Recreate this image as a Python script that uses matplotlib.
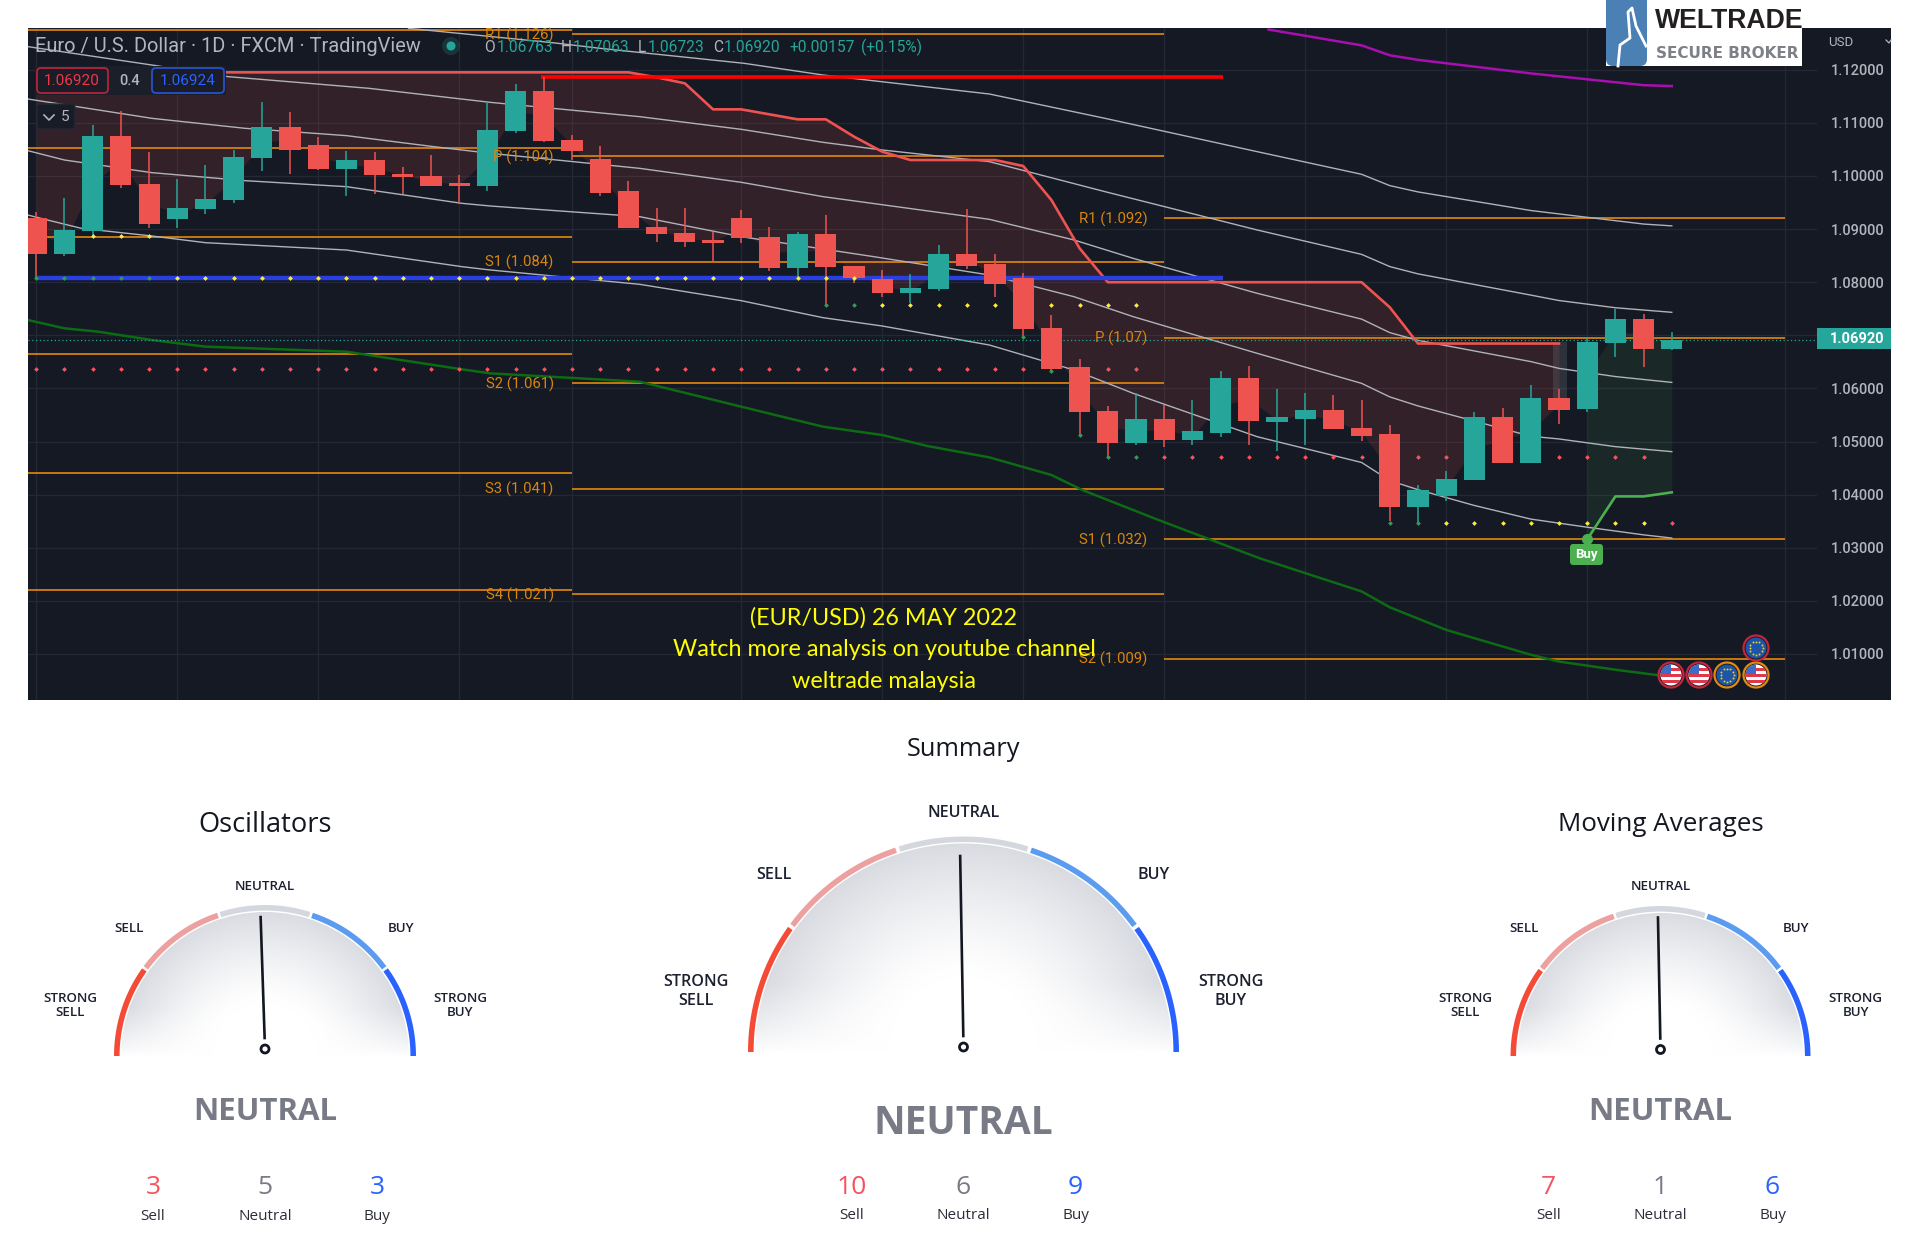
#!/usr/bin/env python3
"""
EUR/USD daily chart with pivots, plus three technical rating gauges
"""
import matplotlib
matplotlib.use('Agg')
import matplotlib.pyplot as plt
import numpy as np
from matplotlib.patches import Circle, FancyBboxPatch, Rectangle

# daily candles, values
opens = [1.09215, 1.08531, 1.08958, 1.10753, 1.09856, 1.09190, 1.09378, 1.09542, 1.10333, 1.10916,
         1.10584, 1.10138, 1.10301, 1.10044, 1.09994, 1.09874, 1.09805, 1.10847, 1.11601, 1.10678,
         1.10320, 1.09711, 1.09046, 1.08926, 1.08788, 1.09209, 1.08857, 1.08267, 1.08901, 1.08311,
         1.08054, 1.07796, 1.07865, 1.08525, 1.08336, 1.08079, 1.07131, 1.06396, 1.05568, 1.04977,
         1.05423, 1.05028, 1.05166, 1.06202, 1.05373, 1.05424, 1.05586, 1.05254, 1.05134, 1.03763,
         1.03976, 1.04283, 1.05458, 1.04590, 1.05816, 1.05603, 1.06864, 1.07307, 1.06736]
highs = [1.09328, 1.09592, 1.10960, 1.11224, 1.10446, 1.09950, 1.10207, 1.10490, 1.11387, 1.11199,
         1.10728, 1.10471, 1.10446, 1.10163, 1.10395, 1.10019, 1.11387, 1.11726, 1.11871, 1.10772,
         1.10565, 1.09899, 1.09403, 1.09403, 1.08951, 1.09353, 1.09046, 1.08951, 1.09259, 1.08311,
         1.08223, 1.08148, 1.08694, 1.09378, 1.08525, 1.08173, 1.07388, 1.06560, 1.05662, 1.05919,
         1.05687, 1.05781, 1.06321, 1.06415, 1.05986, 1.05918, 1.05867, 1.05773, 1.05305, 1.04180,
         1.04436, 1.05560, 1.05629, 1.06072, 1.05986, 1.06966, 1.07503, 1.07409, 1.07063]
lows = [1.08073, 1.08499, 1.08870, 1.09780, 1.09027, 1.09027, 1.09284, 1.09498, 1.10088, 1.10044,
        1.10113, 1.09617, 1.09667, 1.09655, 1.09805, 1.09479, 1.09711, 1.10803, 1.10634, 1.10301,
        1.09617, 1.09027, 1.08763, 1.08669, 1.08386, 1.08738, 1.08217, 1.08054, 1.07564, 1.07978,
        1.07721, 1.07614, 1.07840, 1.08242, 1.07721, 1.06974, 1.06334, 1.05122, 1.04701, 1.04934,
        1.04902, 1.04927, 1.05078, 1.04934, 1.04819, 1.04930, 1.05228, 1.05015, 1.03499, 1.03456,
        1.03882, 1.04283, 1.04590, 1.04590, 1.05322, 1.05560, 1.06600, 1.06412, 1.06723]
closes = [1.08531, 1.08977, 1.10753, 1.09830, 1.09096, 1.09403, 1.09567, 1.10351, 1.10916, 1.10496,
          1.10138, 1.10301, 1.10019, 1.09975, 1.09805, 1.09805, 1.10866, 1.11601, 1.10659, 1.10471,
          1.09686, 1.09027, 1.08907, 1.08763, 1.08738, 1.08838, 1.08267, 1.08901, 1.08292, 1.08079,
          1.07790, 1.07884, 1.08525, 1.08311, 1.07960, 1.07112, 1.06371, 1.05549, 1.04977, 1.05423,
          1.05028, 1.05191, 1.06202, 1.05379, 1.05458, 1.05586, 1.05228, 1.05100, 1.03763, 1.04087,
          1.04300, 1.05458, 1.04590, 1.05816, 1.05586, 1.06881, 1.07307, 1.06736, 1.06920]

# supertrend, falling part then the buy part
st_red = [1.11952] * 22 + [1.11858, 1.11745, 1.11255, 1.11255, 1.11161, 1.11067, 1.11067, 1.10741,
                           1.10458, 1.10301, 1.10301, 1.10301, 1.10301, 1.10188, 1.09548, 1.08638,
                           1.08000, 1.08000, 1.08000, 1.08000, 1.08000, 1.08000, 1.08000, 1.08000,
                           1.08000, 1.08000, 1.07527, 1.06845, 1.06845, 1.06845, 1.06845, 1.06845,
                           1.06845]
st_green_x = [55, 56, 57, 58]
st_green = [1.03156, 1.03966, 1.03966, 1.04042]

band1_x = [13.2, 18.3, 20, 25.1, 27.9, 33.8, 37.9, 43.3, 47, 48, 49, 53, 55, 57, 58]
band1 = [1.12781, 1.12511, 1.12404, 1.12122, 1.11902, 1.11544, 1.11086, 1.10458, 1.10032, 1.09819,
         1.09700, 1.09350, 1.09222, 1.09095, 1.09061]
band2_x = [-0.3, 4.1, 6.8, 11.8, 16.1, 21.4, 25, 27.9, 30, 33.8, 37.9, 43.3, 47, 48, 49, 53, 54, 56, 58]
band2 = [1.12436, 1.12090, 1.11871, 1.11651, 1.11387, 1.11117, 1.10879, 1.10634, 1.10490, 1.10270,
         1.09705, 1.08983, 1.08524, 1.08294, 1.08157, 1.07757, 1.07655, 1.07519, 1.07433]
band3_x = [-0.3, 4.1, 7.4, 11, 14.1, 16.1, 21.4, 25, 27.9, 33.8, 36.8, 38.9, 43.3, 47, 48, 49, 53, 54, 56, 58]
band3 = [1.11450, 1.11086, 1.10898, 1.10760, 1.10552, 1.10427, 1.10144, 1.09881, 1.09611, 1.09184,
         1.08795, 1.08449, 1.07790, 1.07305, 1.07050, 1.06905, 1.06505, 1.06377, 1.06223, 1.06113]
band4_x = [-0.3, 1, 4.1, 7.4, 11, 15.1, 16.1, 21.4, 25, 29.7, 33.8, 36.8, 38.9, 43.3, 47, 48, 49, 53, 54, 56, 58]
band4 = [1.10477, 1.10301, 1.10063, 1.09912, 1.09799, 1.09485, 1.09435, 1.09234, 1.08857, 1.08481,
         1.08135, 1.07727, 1.07351, 1.06660, 1.06095, 1.05840, 1.05670, 1.05099, 1.05048, 1.04903, 1.04809]
band5_x = [-0.3, 0.3, 1.6, 4.1, 6, 11, 15.1, 16.1, 21.4, 25, 27.9, 30, 33.8, 36.8, 38.9, 43.3, 47, 48,
           49, 51, 53, 55, 57, 58]
band5 = [1.09265, 1.09184, 1.09014, 1.08870, 1.08744, 1.08606, 1.08292, 1.08230, 1.07960, 1.07652,
         1.07332, 1.07175, 1.06817, 1.06346, 1.05907, 1.05090, 1.04605, 1.04264, 1.04093, 1.03795,
         1.03539, 1.03386, 1.03242, 1.03182]
ma_green_x = [-0.3, 1, 2.2, 4.1, 6, 11, 15.1, 16.1, 21.4, 25, 27.9, 30, 31.6, 33.8, 36, 37.1, 39.8,
              43.4, 47, 48, 50, 53, 54, 56, 57.5]
ma_green = [1.07288, 1.07131, 1.07068, 1.06911, 1.06786, 1.06691, 1.06359, 1.06283, 1.06126, 1.05656,
            1.05279, 1.05122, 1.04915, 1.04701, 1.04369, 1.04086, 1.03521, 1.02798, 1.02176, 1.01878,
            1.01452, 1.00984, 1.00856, 1.00702, 1.00600]
ma_purple_x = [43.7, 47, 48, 49, 53, 55, 57, 58]
ma_purple = [1.12758, 1.12460, 1.12273, 1.12187, 1.11932, 1.11821, 1.11710, 1.11693]

# pivot levels for the three periods
pivot_ranges = [(-0.3, 19), (19, 40), (40, 62)]
pivot_levels = [[1.12750, 1.10534, 1.08857, 1.06641, 1.04412, 1.02198],
                [1.12668, 1.10370, 1.08386, 1.06095, 1.04111, 1.02128],
                [1.09200, 1.06956, 1.03156, 1.00908]]
pivot_labels = [[],
                ['R1 (1.126)', 'P (1.104)', 'S1 (1.084)', 'S2 (1.061)', 'S3 (1.041)', 'S4 (1.021)'],
                ['R1 (1.092)', 'P (1.07)', 'S1 (1.032)', 'S2 (1.009)']]

red_level = 1.11870
blue_level = 1.08073
last_price = 1.06920
price_ticks = [1.01, 1.02, 1.03, 1.04, 1.05, 1.06, 1.07, 1.08, 1.09, 1.10, 1.11, 1.12]
time_ticks = [0, 5, 10, 15, 19, 25, 30, 35, 40, 45, 50, 55, 62]

# signal dots: price level and candle indexes per colour
dot_rows = [
    (1.08073, list(range(0, 5)), '#2e9e4f'),
    (1.08073, list(range(5, 30)), '#ffeb3b'),
    (1.08870, [2, 3, 4], '#ffeb3b'),
    (1.07570, [28, 29], '#2e9e4f'),
    (1.07570, [30, 31, 32, 33, 34, 36, 37, 38, 39], '#ffeb3b'),
    (1.06365, list(range(0, 36)) + [38, 39], '#f7525f'),
    (1.06974, [35], '#2e9e4f'),
    (1.06334, [36], '#2e9e4f'),
    (1.05122, [37], '#2e9e4f'),
    (1.04700, [38, 39], '#2e9e4f'),
    (1.04700, [40, 41, 42, 43, 44, 45, 46, 47, 49, 50, 54, 55, 56, 57], '#f7525f'),
    (1.03463, [48, 49], '#2e9e4f'),
    (1.03463, [50, 51, 52, 53, 54, 55, 56, 57], '#ffeb3b'),
    (1.03463, [58], '#f7525f'),
]

# gauges
gauge_names = ['Oscillators', 'Summary', 'Moving Averages']
gauge_sell = [3, 10, 7]
gauge_neutral = [5, 6, 1]
gauge_buy = [3, 9, 6]
needle_deg = [91.9, 91.0, 91.1]
gauge_segments = ['#f44a36', '#eda0a0', '#d5d7de', '#5b9cf0', '#2962ff']

BG = '#141923'
RED = '#ef5350'
TEAL = '#26a69a'
ORANGE = '#d9820f'
W, H = 1920, 1260


def pix_rect(x0, y0, x1, y1):
    return [x0 / W, 1 - y1 / H, (x1 - x0) / W, (y1 - y0) / H]


fig = plt.figure(figsize=(19.2, 12.6), dpi=100, facecolor='white')
fig.patches.append(Rectangle((28 / W, 1 - 700 / H), (1891 - 28) / W, 672 / H,
                             transform=fig.transFigure, facecolor=BG, edgecolor='none', zorder=-1))

ax = fig.add_axes(pix_rect(28, 28, 1817, 700), facecolor=BG)
ax.set_xlim(-0.294, 63.15)
ax.set_ylim(1.00132, 1.12787)
for spine in ax.spines.values():
    spine.set_visible(False)
ax.set_axisbelow(True)
ax.grid(color='#232834', linewidth=1)
ax.set_xticks(time_ticks)
ax.set_yticks(price_ticks)
ax.set_yticklabels([f'{p:.5f}' for p in price_ticks], family='Roboto', fontweight='medium')
ax.yaxis.tick_right()
ax.tick_params(axis='x', length=0, labelbottom=False)
ax.tick_params(axis='y', length=0, pad=10, labelsize=10.5, labelcolor='#b2b5be')

idx = np.arange(len(closes))
opens_a, closes_a = np.array(opens), np.array(closes)
mids = (opens_a + closes_a) / 2

ax.fill_between(idx[:55], st_red[:55], mids[:55], color=RED, alpha=0.14, linewidth=0, zorder=1)
ax.fill_between(st_green_x, st_green, mids[55:], color='#4caf50', alpha=0.11, linewidth=0, zorder=1)
ax.fill_between([53.8, 54.3], 1.0575, 1.0688, color='#787b86', alpha=0.25, linewidth=0, zorder=1)

for (x0, x1), levels in zip(pivot_ranges, pivot_levels):
    ax.hlines(levels, x0, x1, color=ORANGE, linewidth=1.4, alpha=0.9, zorder=2)

for xs, ys in [(band1_x, band1), (band2_x, band2), (band3_x, band3), (band4_x, band4), (band5_x, band5)]:
    ax.plot(xs, ys, color='#b0b2b9', linewidth=1.0, zorder=3)
ax.plot(ma_green_x, ma_green, color='#0d6b14', linewidth=1.8, zorder=3)
ax.plot(ma_purple_x, ma_purple, color='#a80fb0', linewidth=1.8, zorder=3)

ax.plot(idx[:55], st_red[:55], color=RED, linewidth=1.9, zorder=4)
ax.plot(st_green_x, st_green, color='#4caf50', linewidth=1.9, zorder=4)
ax.plot([55], [st_green[0]], marker='o', color='#4caf50', markersize=7, zorder=6)

ax.hlines(blue_level, 0, 42.1, color='#2a3fe0', linewidth=3.2, zorder=4)
ax.hlines(red_level, 17.9, 42.1, color='#ff0000', linewidth=2.6, zorder=4)
ax.axhline(last_price, color=TEAL, linewidth=0.9, linestyle=(0, (1, 2)), zorder=4)

colors = [TEAL if c >= o else RED for o, c in zip(opens, closes)]
ax.vlines(idx, lows, highs, color=colors, linewidth=1.1, zorder=5)
ax.bar(idx, np.abs(closes_a - opens_a), bottom=np.minimum(opens_a, closes_a), width=0.75,
       color=colors, zorder=5)

for level, where, col in dot_rows:
    ax.scatter(where, [level] * len(where), marker='D', s=6, color=col, linewidth=0, zorder=7)

label_ends = [None, 18.35, 39.4]
for end, levels, labels in zip(label_ends, pivot_levels, pivot_labels):
    for level, lab in zip(levels, labels):
        ax.annotate(lab, (end, level), xytext=(0, -1), textcoords='offset pixels', color='#d9860f',
                    fontsize=10.7, family='Roboto', ha='right', va='center', zorder=6)

# everything else is placed in picture pixels on an overlay
ui = fig.add_axes([0, 0, 1, 1], facecolor='none')
ui.set_xlim(0, W)
ui.set_ylim(H, 0)
ui.axis('off')


def txt(x, y, s, color, size, family='Roboto', ha='left', weight='normal', **kw):
    return ui.text(x, y, s, color=color, fontsize=size, family=family, ha=ha, va='center',
                   fontweight=weight, **kw)


# header
txt(35, 46, 'Euro / U.S. Dollar · 1D · FXCM · TradingView', '#b2b5be', 14.4)
ui.add_patch(Circle((451, 46), 9, facecolor=TEAL, alpha=0.2, edgecolor='none'))
ui.add_patch(Circle((451, 46), 4.5, facecolor=TEAL, edgecolor='none'))
for x, s, col in [(484, 'O', '#b2b5be'), (497, '1.06763', TEAL), (561, 'H', '#b2b5be'), (573, '1.07063', TEAL),
                  (638, 'L', '#b2b5be'), (648, '1.06723', TEAL), (713, 'C', '#b2b5be'), (724, '1.06920', TEAL),
                  (789, '+0.00157', TEAL), (861, '(+0.15%)', TEAL)]:
    txt(x, 47, s, col, 11.2)

# bid / ask boxes
ui.add_patch(Rectangle((35, 66), 191, 29, facecolor='#1b1f2a', edgecolor='none'))
ui.add_patch(FancyBboxPatch((37, 68), 71, 25, boxstyle='round,pad=0,rounding_size=4',
                            facecolor='#1a1d28', edgecolor='#b5243a', linewidth=1.3))
ui.add_patch(FancyBboxPatch((152, 68), 72, 25, boxstyle='round,pad=0,rounding_size=4',
                            facecolor='#1a1d28', edgecolor='#2a50c8', linewidth=1.3))
txt(72, 81, '1.06920', '#f23645', 11, ha='center')
txt(130, 81, '0.4', '#b2b5be', 10.5, ha='center', weight='medium')
txt(188, 81, '1.06924', '#2962ff', 11, ha='center')
ui.add_patch(FancyBboxPatch((37, 104), 38, 25, boxstyle='round,pad=0,rounding_size=3',
                            facecolor='#181c27', edgecolor='#242834', linewidth=1))
ui.plot([44, 49, 54], [115, 120, 115], color='#b2b5be', linewidth=1.2)
txt(65, 117, '5', '#b2b5be', 11, ha='center')

# annotation
for y, s in [(618, '(EUR/USD) 26 MAY 2022'), (650, 'Watch more analysis on youtube channel'),
             (682, 'weltrade malaysia')]:
    txt(884, y, s, '#ffff00', 16.8, family='Lato', ha='center')

# price axis extras
txt(1828, 42, 'USD', '#b2b5be', 9.5)
ui.plot([1886, 1889, 1891], [40, 43, 40], color='#b2b5be', linewidth=0.9)
ui.add_patch(Rectangle((1817, 328), 74, 21, facecolor=TEAL, edgecolor='none'))
txt(1857, 339, '1.06920', 'white', 10.5, ha='center', weight='bold')

# buy tag
ui.add_patch(FancyBboxPatch((1570, 544), 33, 21, boxstyle='round,pad=0,rounding_size=3',
                            facecolor='#4caf50', edgecolor='none'))
txt(1586.5, 554.5, 'Buy', 'white', 9.5, ha='center', weight='bold')


# calendar event badges
def flag_us(cx, cy, rim):
    clip = Circle((cx, cy), 10.5, transform=ui.transData)
    ui.add_patch(Circle((cx, cy), 12.5, facecolor=BG, edgecolor=rim, linewidth=1.6))
    for rect, col in [((cx - 11, cy - 11, 22, 22), 'white'), ((cx - 11, cy - 7, 22, 3), '#e0384a'),
                      ((cx - 11, cy - 1, 22, 3), '#e0384a'), ((cx - 11, cy + 5, 22, 3), '#e0384a'),
                      ((cx - 11, cy - 11, 11, 10), '#3c6cc8')]:
        p = Rectangle(rect[:2], rect[2], rect[3], facecolor=col, edgecolor='none')
        ui.add_patch(p)
        p.set_clip_path(clip)


def flag_eu(cx, cy, rim):
    ui.add_patch(Circle((cx, cy), 12.5, facecolor=BG, edgecolor=rim, linewidth=1.6))
    ui.add_patch(Circle((cx, cy), 10.5, facecolor='#1d56a8', edgecolor='none'))
    ang = np.deg2rad(np.arange(0, 360, 30))
    ui.scatter(cx + 6.5 * np.cos(ang), cy + 6.5 * np.sin(ang), s=2, color='#e8c93c', linewidth=0)


flag_us(1671, 675, '#c2263c')
flag_us(1699, 675, '#c2263c')
flag_eu(1727, 675, '#e08a10')
flag_us(1756, 675, '#e08a10')
flag_eu(1756, 648, '#c2263c')

# logo
ui.add_patch(Rectangle((1606, 0), 196, 66, facecolor='white', edgecolor='none', zorder=8))
ui.add_patch(FancyBboxPatch((1606, -8), 41, 74, boxstyle='round,pad=0,rounding_size=7',
                            facecolor='#4a80b4', edgecolor='none', zorder=8))
ui.plot([1618, 1620, 1630, 1628, 1632, 1636, 1646], [66, 45, 38, 12, 8, 26, 46],
        color='white', linewidth=2, zorder=9)
txt(1655, 21, 'WELTRADE', '#231f20', 19.2, family='Liberation Sans', weight='bold', zorder=9)
txt(1655.5, 54, 'SECURE BROKER', '#7d8087', 11, family='DejaVu Sans', weight='bold', zorder=9)

# gauges: centre x, base y, radius, pivot y, needle length
gauge_geom = [(265, 1056, 151, 1049, 132), (963.5, 1052, 215.5, 1047, 191), (1660.5, 1056, 150, 1049.5, 132)]
title_y = [824.5, 749, 824.5]
title_size = [19.6, 18.3, 18.7]
neutral_y = [886, 813, 886]
sell_dx = [136, 190, 136]
sell_y = [928, 875, 928]
strong_dx = [195, 267.5, 195]
strong_y = [(998, 1013), (982, 1001), (998, 1013)]
big_y = [1111.5, 1123, 1111.5]
big_size = [22.5, 28, 22.5]
count_dx = [112, 112, 112]
count_y = [1187, 1187, 1187]
small_y = [1216.5, 1215.5, 1215.5]
label_size = [9.6, 11.6, 9.6]
FONT = 'Open Sans'

for k, name in enumerate(gauge_names):
    cx, cy, R, py, nlen = gauge_geom[k]

    # shaded dome
    yy, xx = np.mgrid[0:1:240j, -1:1:480j]
    rr = np.hypot(xx, yy)
    t = np.clip((rr - 0.35) / 0.65, 0, 1) ** 1.3 * np.clip(yy / 0.32, 0, 1) ** 0.8
    shade = 1 - t[..., None] * (1 - np.array([0.84, 0.85, 0.875]))
    img = ui.imshow(shade[::-1], extent=(cx - R, cx + R, cy, cy - R), aspect='auto', zorder=1,
                    interpolation='bilinear')
    img.set_clip_path(Circle((cx, cy), R - 7, transform=ui.transData))

    # coloured rim, five equal parts
    for j, col in enumerate(gauge_segments):
        a0 = 180 - 36 * j - (0.5 if j else 0)
        a1 = 180 - 36 * (j + 1) + (0.5 if j < 4 else 0)
        ang = np.deg2rad(np.linspace(a0, a1, 60))
        ui.plot(cx + (R - 2.8) * np.cos(ang), cy - (R - 2.8) * np.sin(ang), color=col,
                linewidth=4, solid_capstyle='butt', zorder=2)

    # needle and pivot
    a = np.deg2rad(needle_deg[k])
    start = 11
    ui.plot([cx + start * np.cos(a), cx + nlen * np.cos(a)],
            [py - start * np.sin(a), py - nlen * np.sin(a)],
            color='#131722', linewidth=1.9, zorder=3)
    ui.add_patch(Circle((cx, py), 4, facecolor='white', edgecolor='#131722', linewidth=2, zorder=3))

    ls = label_size[k]
    col = '#1c2030'
    txt(cx, title_y[k], name, '#131722', title_size[k], family=FONT, ha='center')
    txt(cx, neutral_y[k], 'NEUTRAL', col, ls, family=FONT, ha='center', weight='semibold')
    txt(cx - sell_dx[k], sell_y[k], 'SELL', col, ls, family=FONT, ha='center', weight='semibold')
    txt(cx + sell_dx[k], sell_y[k], 'BUY', col, ls, family=FONT, ha='center', weight='semibold')
    for sign, words in [(-1, ('STRONG', 'SELL')), (1, ('STRONG', 'BUY'))]:
        for y, word in zip(strong_y[k], words):
            txt(cx + sign * strong_dx[k], y, word, col, ls, family=FONT, ha='center', weight='semibold')

    txt(cx, big_y[k], 'NEUTRAL', '#787b86', big_size[k], family=FONT, ha='center', weight='bold')

    vals = [gauge_sell[k], gauge_neutral[k], gauge_buy[k]]
    for off, v, vc, lab in zip((-count_dx[k], 0, count_dx[k]), vals,
                               ('#f7525f', '#787b86', '#2962ff'), ('Sell', 'Neutral', 'Buy')):
        txt(cx + off, count_y[k], str(v), vc, 19, family=FONT, ha='center')
        txt(cx + off, small_y[k], lab, '#2a2e39', 11, family=FONT, ha='center')

ui.set_xlim(0, W)
ui.set_ylim(H, 0)
fig.savefig('out.png', dpi=100, facecolor='white')
